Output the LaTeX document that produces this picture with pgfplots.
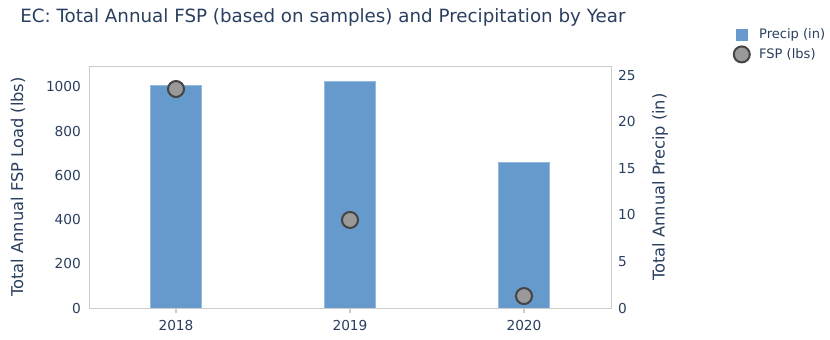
\documentclass[border=0pt]{standalone}
\usepackage{pgfplots}
\pgfplotsset{compat=1.18}
\usepackage{fontspec}
\setmainfont{DejaVu Sans}
\definecolor{txt}{RGB}{42,63,95}
\definecolor{barc}{RGB}{102,153,204}
\definecolor{bare}{RGB}{150,185,225}
\definecolor{axc}{RGB}{204,204,204}
\definecolor{mk}{RGB}{153,153,153}
\definecolor{mke}{RGB}{68,68,68}
\pgfplotsset{
  base/.style={
    scale only axis, width=391.5pt, height=181.5pt,
    at={(66.75pt,23.25pt)}, anchor=south west,
    xmin=-0.5, xmax=2.5, ymin=0,
    /pgf/number format/assume math mode=true,
    /pgf/number format/1000 sep={},
    ticklabel style={font=\fontsize{10.3}{12}\selectfont, text=txt},
    axis line style={draw=axc, line width=0.7pt},
    tick align=outside,
  }
}
\begin{document}
\begin{tikzpicture}[x=1pt,y=1pt]
\path[use as bounding box] (0,0) rectangle (622.5,254.25);
\node[anchor=base west, font=\fontsize{13.7}{15}\selectfont, text=txt, inner sep=0] at (15,237) {EC: Total Annual FSP (based on samples) and Precipitation by Year};
\begin{axis}[base,
  ymax=26,
  axis x line=none,
  axis y line*=right,
  ytick={0,5,10,15,20,25},
  ytick style={draw=none},
  yticklabel style={anchor=west, xshift=-2.5pt},
  ylabel={Total Annual Precip (in)},
  ylabel style={font=\fontsize{12.2}{14}\selectfont, text=txt},
  every axis y label/.append style={at={(axis description cs:1.094,0.5)}, anchor=center, rotate=0},
]
\addplot[ybar, bar width=38pt, fill=barc, draw=bare, line width=0.6pt] coordinates {(0,23.9) (1,24.3) (2,15.6)};
\end{axis}
\begin{axis}[base,
  ymax=1094,
  axis lines=box,
  xtick={0,1,2}, xticklabels={2018,2019,2020},
  xtick pos=lower, ytick pos=left,
  ytick={0,200,400,600,800,1000},
  ytick style={draw=none},
  xtick style={draw=axc, line width=0.8pt},
  major tick length=4pt,
  yticklabel style={anchor=east, xshift=1.5pt},
  xticklabel style={yshift=-2pt},
  ylabel={Total Annual FSP Load (lbs)},
  ylabel style={font=\fontsize{12.2}{14}\selectfont, text=txt},
  every axis y label/.append style={at={(axis description cs:-0.136,0.5)}, anchor=center},
  legend style={at={(axis description cs:1.227,1.178)}, anchor=north west, draw=none, fill=none,
    font=\fontsize{9.8}{11}\selectfont, text=txt, row sep=2pt},
  legend cell align=left,
]
\addlegendimage{only marks, mark=square*, mark size=4pt, mark options={fill=barc, draw=barc}}
\addlegendentry{\hspace*{5pt}Precip (in)}
\addplot[only marks, mark=*, mark size=6pt, mark options={fill=mk, draw=mke, line width=1.5pt}] coordinates {(0,990) (1,398) (2,54)};
\addlegendentry{\hspace*{5pt}FSP (lbs)}
\end{axis}
\end{tikzpicture}
\end{document}
